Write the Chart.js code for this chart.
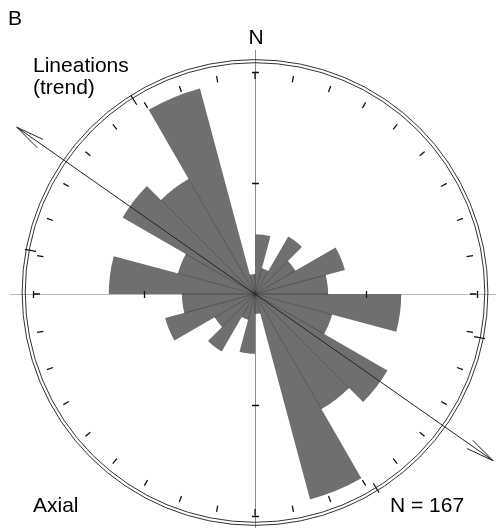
<!DOCTYPE html>
<html>
<head>
<meta charset="utf-8">
<script src="https://cdn.jsdelivr.net/npm/chart.js@4.4.1/dist/chart.umd.min.js"></script>
<style>
  html, body { margin: 0; padding: 0; background: #fff; }
  #wrap { position: relative; width: 496px; height: 528px; }
</style>
</head>
<body>
<div id="wrap"><canvas id="rose"></canvas></div>
<script>
// 15 degree bins over 0-180; the data are axial, so every bin is repeated at +180
const binStarts = [0, 15, 30, 45, 60, 75, 90, 105, 120, 135, 150, 165];
const binCounts = [9, 4, 10, 7, 14, 11, 22, 12, 23, 20, 32, 3];
const totalN = 167;
const ringTicks = [10, 20];        // percent of N
const meanTrend = 125;             // degrees, drawn as the double arrow
const confLimits = [101, 148];     // marks on the outer circle

const labels = [];
const percents = [];
for (let half = 0; half < 2; half++) {
    binStarts.forEach((b, i) => {
        const a = b + half * 180;
        labels.push(a + '-' + (a + 15) + '°');
        percents.push(binCounts[i] / totalN * 100);
    });
}

function pt(cx, cy, bearing, r) {
    const a = (bearing - 90) * Math.PI / 180;
    return [cx + r * Math.cos(a), cy + r * Math.sin(a)];
}

const roseDecor = {
    id: 'roseDecor',
    beforeDatasetsDraw(chart) {
        const ctx = chart.ctx;
        const s = chart.scales.r;
        const cx = s.xCenter, cy = s.yCenter;
        ctx.save();
        ctx.lineWidth = 1;
        ctx.strokeStyle = '#b8b8b8';
        ctx.beginPath();
        ctx.moveTo(10, cy + 0.5);
        ctx.lineTo(chart.width, cy + 0.5);
        ctx.stroke();
        ctx.strokeStyle = '#8c8c8c';
        ctx.beginPath();
        ctx.moveTo(cx + 0.5, 50);
        ctx.lineTo(cx + 0.5, chart.height);
        ctx.stroke();
        ctx.restore();
    },
    afterDatasetsDraw(chart) {
        const ctx = chart.ctx;
        const s = chart.scales.r;
        const cx = s.xCenter, cy = s.yCenter;
        const R = s.getDistanceFromCenterForValue(ringTicks[ringTicks.length - 1]);
        ctx.save();

        // thin dark lines between neighbouring bars
        const arcs = chart.getDatasetMeta(0).data;
        ctx.strokeStyle = 'rgba(45,45,45,0.75)';
        ctx.lineWidth = 0.8;
        ctx.beginPath();
        arcs.forEach((arc, i) => {
            const next = arcs[(i + 1) % arcs.length];
            const r = Math.min(arc.outerRadius, next.outerRadius);
            ctx.moveTo(cx, cy);
            ctx.lineTo(cx + r * Math.cos(arc.endAngle), cy + r * Math.sin(arc.endAngle));
        });
        ctx.stroke();

        // double outer circle
        ctx.strokeStyle = '#333';
        ctx.lineWidth = 1;
        [R * 1.035, R * 1.049].forEach(r => {
            ctx.beginPath();
            ctx.arc(cx, cy - 1.5, r, 0, Math.PI * 2);
            ctx.stroke();
        });

        // compass dashes every 10 degrees
        ctx.strokeStyle = '#111';
        ctx.lineWidth = 1.3;
        ctx.beginPath();
        for (let d = 0; d < 360; d += 10) {
            const p1 = pt(cx, cy, d, R * 0.968);
            const p2 = pt(cx, cy, d, R * 0.997);
            ctx.moveTo(p1[0], p1[1]);
            ctx.lineTo(p2[0], p2[1]);
        }
        // ring ticks on the axes
        for (let d = 0; d < 360; d += 90) {
            ringTicks.forEach(v => {
                const r = s.getDistanceFromCenterForValue(v);
                const c = pt(cx + 0.5, cy + 0.5, d, r);
                const q1 = pt(c[0], c[1], d + 90, 3.5);
                const q2 = pt(c[0], c[1], d - 90, 3.5);
                ctx.moveTo(q1[0], q1[1]);
                ctx.lineTo(q2[0], q2[1]);
            });
        }
        ctx.stroke();

        // confidence marks crossing the outer circle
        ctx.lineWidth = 1.2;
        ctx.beginPath();
        confLimits.forEach(b => {
            [b, b + 180].forEach(d => {
                const p1 = pt(cx, cy, d, R * 1.005);
                const p2 = pt(cx, cy, d, R * 1.055);
                ctx.moveTo(p1[0], p1[1]);
                ctx.lineTo(p2[0], p2[1]);
            });
        });
        ctx.stroke();

        // mean trend double arrow
        ctx.strokeStyle = '#222';
        ctx.lineWidth = 1;
        const L = R * 1.31;
        const a1 = pt(cx, cy, meanTrend, L);
        const a2 = pt(cx, cy, meanTrend + 180, L);
        ctx.beginPath();
        ctx.moveTo(a1[0], a1[1]);
        ctx.lineTo(a2[0], a2[1]);
        [[a1, meanTrend + 180], [a2, meanTrend]].forEach(([tip, back]) => {
            [-10, 10].forEach(off => {
                const b = pt(tip[0], tip[1], back + off, 29);
                ctx.moveTo(tip[0], tip[1]);
                ctx.lineTo(b[0], b[1]);
            });
        });
        ctx.stroke();

        // text
        ctx.fillStyle = '#000';
        ctx.font = '21px "Liberation Sans", Arial, sans-serif';
        ctx.textBaseline = 'alphabetic';
        ctx.textAlign = 'left';
        ctx.fillText('B', 8, 25);
        ctx.fillText('Lineations', 33, 72);
        ctx.fillText('(trend)', 33, 94);
        ctx.fillText('Axial', 33, 512);
        ctx.fillText('N = ' + totalN, 390, 512);
        ctx.textAlign = 'center';
        ctx.fillText('N', cx + 1, 44);
        ctx.restore();
    }
};

new Chart(document.getElementById('rose'), {
    type: 'polarArea',
    data: {
        labels: labels,
        datasets: [{
            label: 'Lineations (%)',
            data: percents,
            backgroundColor: '#6f6f6f',
            borderWidth: 0
        }]
    },
    options: {
        responsive: true,
        maintainAspectRatio: false,
        animation: false,
        layout: { padding: { left: 33, top: 72, right: 18, bottom: 11 } },
        scales: {
            r: {
                min: 0,
                max: 20,
                startAngle: 0,
                ticks: { display: false },
                grid: { display: false },
                angleLines: { display: false },
                pointLabels: { display: false }
            }
        },
        plugins: {
            legend: { display: false },
            tooltip: {
                callbacks: {
                    label: function (context) {
                        return context.raw.toFixed(1) + ' %';
                    }
                }
            }
        }
    },
    plugins: [roseDecor]
});
</script>
</body>
</html>
